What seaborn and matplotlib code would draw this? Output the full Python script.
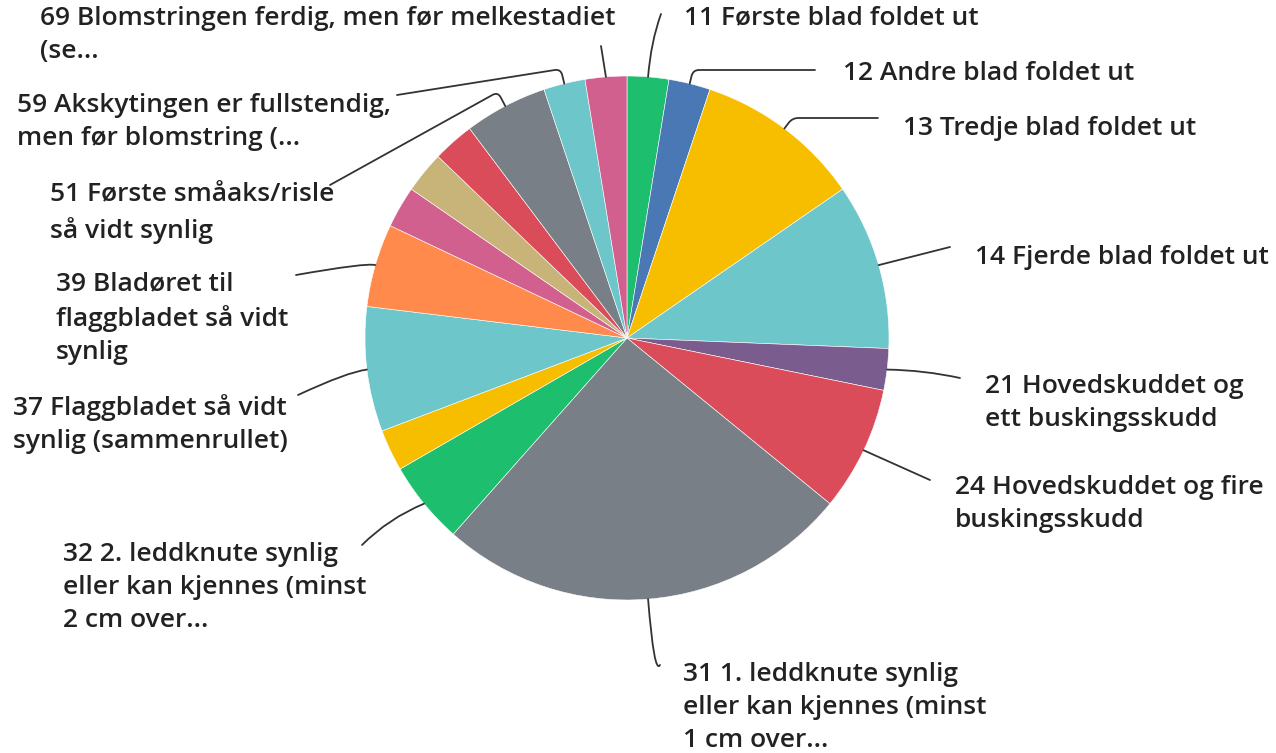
import matplotlib
matplotlib.use("Agg")
import matplotlib.pyplot as plt
import seaborn as sns
import numpy as np

# ---------------- data ----------------
labels = [
    "11 Første blad foldet ut",
    "12 Andre blad foldet ut",
    "13 Tredje blad foldet ut",
    "14 Fjerde blad foldet ut",
    "21 Hovedskuddet og\nett buskingsskudd",
    "24 Hovedskuddet og fire\nbuskingsskudd",
    "31 1. leddknute synlig\neller kan kjennes (minst\n1 cm over...",
    "32 2. leddknute synlig\neller kan kjennes (minst\n2 cm over...",
    "",
    "37 Flaggbladet så vidt\nsynlig (sammenrullet)",
    "39 Bladøret til\nflaggbladet så vidt\nsynlig",
    "",
    "",
    "",
    "51 Første småaks/risle\nså vidt synlig",
    "59 Akskytingen er fullstendig,\nmen før blomstring (...",
    "69 Blomstringen ferdig, men før melkestadiet\n(se...",
]
counts = [1, 1, 4, 4, 1, 3, 10, 2, 1, 3, 2, 1, 1, 1, 2, 1, 1]
colors = ["#1dbe6e", "#4a78b5", "#f7be00", "#6cc6ca", "#7a5c8e", "#db4c5b",
          "#787f86", "#1dbe6e", "#f7be00", "#6cc6ca", "#ff8a4c", "#d2608e",
          "#c8b478", "#db4c5b", "#787f86", "#6cc6ca", "#d2608e"]

# ---------------- layout (pixels, y from top) ----------------
W, H = 1276, 753
CX, CY, R = 627, 338, 262
text_pos = {0: (684, 18), 1: (843, 73), 2: (903, 128), 3: (975, 257),
            4: (985, 386), 5: (955, 487), 6: (683, 673), 7: (63, 553),
            9: (13, 407), 10: (56, 284), 14: (50, 196), 15: (17, 105),
            16: (40, 18)}
line_end = {0: (661, 14), 1: (815, 70), 2: (878, 118), 3: (950, 247),
            4: (960, 378), 5: (930, 480), 6: (660, 665), 7: (362, 545),
            9: (298, 395), 10: (296, 275), 14: (330, 185), 15: (397, 95),
            16: (601, 46)}
conn = {0: ("angle3", 70), 1: ("angle", 0), 2: ("angle", 0), 3: ("arc3", 0),
        4: ("arc3", 0.05), 5: ("arc3", 0), 6: ("angle3", 60), 7: ("arc3", -0.1),
        9: ("angle3", 25), 10: ("angle3", 10), 14: ("angle", 29),
        15: ("angle", 9), 16: ("arc3", 0)}
LINE_H = 34.5

sns.set_theme(style="white")
plt.rcParams["font.family"] = ["Open Sans", "DejaVu Sans"]

fig = plt.figure(figsize=(W / 100, H / 100), dpi=100)
ax = fig.add_axes([0, 0, 1, 1])
wedges, _ = ax.pie(counts, colors=colors, startangle=90, counterclock=False,
                   center=(CX, H - CY), radius=R,
                   wedgeprops=dict(linewidth=0.4, edgecolor="white"))
ax.set_xlim(0, W)
ax.set_ylim(0, H)
ax.set_aspect("equal", adjustable="datalim")
ax.axis("off")

for i, w in enumerate(wedges):
    if not labels[i]:
        continue
    mid = np.deg2rad((w.theta1 + w.theta2) / 2)
    px = CX + R * np.cos(mid)
    py = (H - CY) + R * np.sin(mid)
    radial = np.rad2deg(mid) % 180
    ex, ey = line_end[i]
    kind, p = conn[i]
    if kind == "arc3":
        cs = f"arc3,rad={p}"
    elif kind == "angle3":
        cs = f"angle3,angleA={p},angleB={radial:.1f}"
    else:
        cs = f"angle,angleA={p},angleB={radial:.1f},rad=6"
    ax.annotate("", xy=(px, py), xytext=(ex, H - ey),
                arrowprops=dict(arrowstyle="-", color="#333333", lw=1.3,
                                connectionstyle=cs, shrinkA=0, shrinkB=0),
                annotation_clip=False)
    tx, ty = text_pos[i]
    n = labels[i].count("\n") + 1
    yc = ty + (n - 1) * LINE_H / 2
    ax.text(tx, H - yc, labels[i], ha="left", va="center", fontsize=19,
            fontweight="semibold", color="#222222", linespacing=1.42)

fig.savefig("out.png", dpi=100)
